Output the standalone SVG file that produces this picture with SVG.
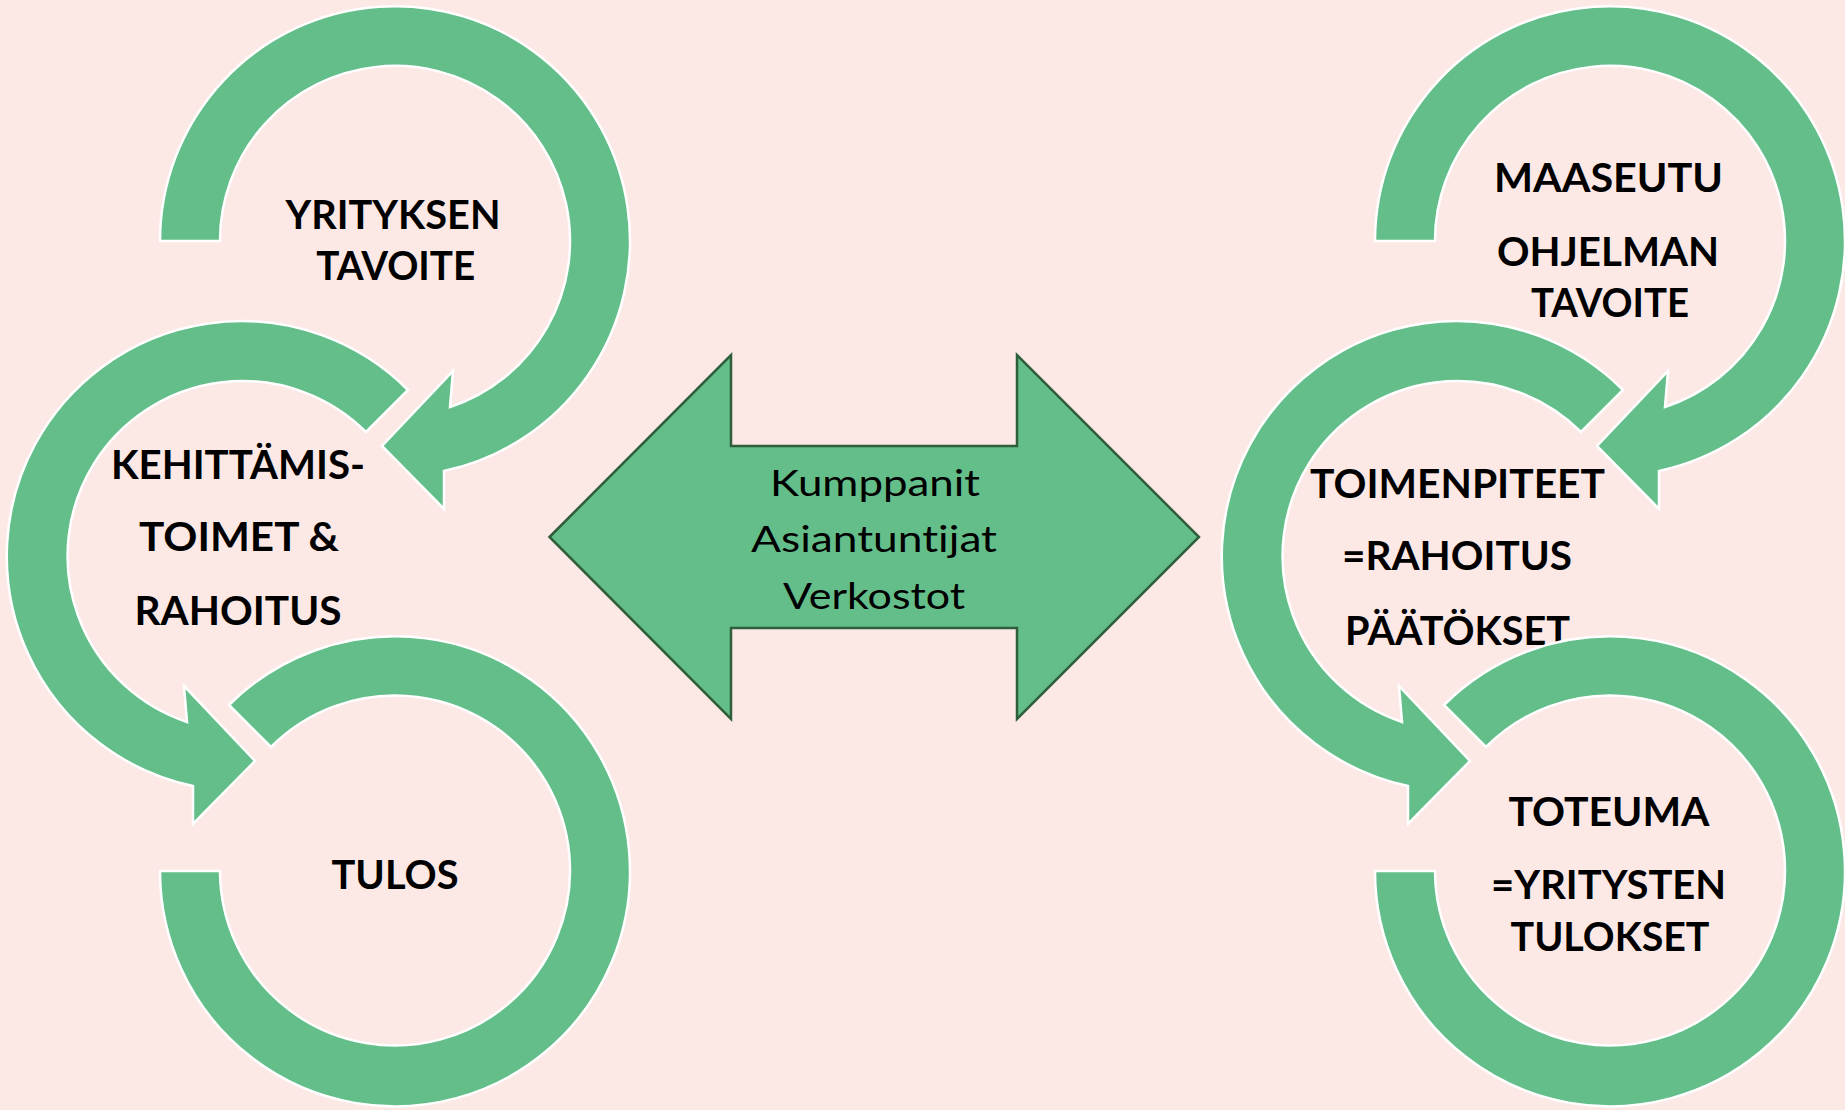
<svg xmlns="http://www.w3.org/2000/svg" width="1845" height="1110" viewBox="0 0 1845 1110">
<style>
.ring{fill:#64BE8A;stroke:#FFFFFF;stroke-width:2.5;stroke-linejoin:miter}
.lbl{font-family:Lato,"Open Sans","Liberation Sans",sans-serif;font-weight:700;font-size:40px;fill:#000;text-anchor:middle;font-variant-ligatures:none}
.mid{font-family:Lato,"Open Sans","Liberation Sans",sans-serif;font-weight:400;font-size:36px;fill:#000;text-anchor:middle;font-variant-ligatures:none}
.dbl{fill:#64BE8A;stroke:#2E5E3A;stroke-width:2.5;stroke-linejoin:miter}
</style>
<defs>
<path id="shapeA" d="M -235,0 A 235 235 0 1 1 49,230 L 49,268 L -13,205 L 58,130 L 55,166 A 175 175 0 1 0 -175,0 Z"/>
<path id="shapeB" d="M 166,-166 A 235 235 0 1 0 -49,230 L -49,268 L 13,205 L -58,130 L -55,166 A 175 175 0 1 1 124,-124 Z"/>
<path id="shapeC" d="M -166,-166 A 235 235 0 1 1 -235,0 L -175,0 A 175 175 0 1 0 -124,-124 Z"/>
</defs>
<rect x="0" y="0" width="1845" height="1110" fill="#FCE9E6"/>

<g id="yrityksen-tavoite">
<use href="#shapeA" class="ring" transform="translate(395,241)"/>
<text class="lbl" x="393" y="228.6" textLength="215" lengthAdjust="spacingAndGlyphs">YRITYKSEN</text>
<text class="lbl" x="395.7" y="280.4" textLength="159" lengthAdjust="spacingAndGlyphs">TAVOITE</text>
</g>

<g id="kehittamistoimet">
<use href="#shapeB" class="ring" transform="translate(242,556)"/>
<text class="lbl" x="238" y="478.6" textLength="254" lengthAdjust="spacingAndGlyphs">KEHITTÄMIS-</text>
<text class="lbl" x="239" y="551" textLength="200" lengthAdjust="spacingAndGlyphs">TOIMET &amp;</text>
<text class="lbl" x="238" y="625" textLength="207" lengthAdjust="spacingAndGlyphs">RAHOITUS</text>
</g>

<g id="tulos">
<use href="#shapeC" class="ring" transform="translate(395,871)"/>
<text class="lbl" x="395" y="888.6" textLength="127" lengthAdjust="spacingAndGlyphs">TULOS</text>
</g>

<g id="kumppanit">
<path class="dbl" d="M 549.5,537 L 731,355 L 731,446 L 1017,446 L 1017,355 L 1199,537 L 1017,719 L 1017,628 L 731,628 L 731,719 Z"/>
<text class="mid" x="875" y="496" textLength="210" lengthAdjust="spacingAndGlyphs">Kumppanit</text>
<text class="mid" x="874" y="552" textLength="246" lengthAdjust="spacingAndGlyphs">Asiantuntijat</text>
<text class="mid" x="874" y="609" textLength="182" lengthAdjust="spacingAndGlyphs">Verkostot</text>
</g>

<g id="maaseutuohjelman-tavoite">
<use href="#shapeA" class="ring" transform="translate(1610,241)"/>
<text class="lbl" x="1608.5" y="192" textLength="229" lengthAdjust="spacingAndGlyphs">MAASEUTU</text>
<text class="lbl" x="1608" y="266" textLength="222" lengthAdjust="spacingAndGlyphs">OHJELMAN</text>
<text class="lbl" x="1610" y="317" textLength="158" lengthAdjust="spacingAndGlyphs">TAVOITE</text>
</g>

<g id="toimenpiteet">
<use href="#shapeB" class="ring" transform="translate(1457,556)"/>
<text class="lbl" x="1457.5" y="498" textLength="295" lengthAdjust="spacingAndGlyphs">TOIMENPITEET</text>
<text class="lbl" x="1457" y="569.6" textLength="230" lengthAdjust="spacingAndGlyphs">=RAHOITUS</text>
<text class="lbl" x="1457.5" y="644.6" textLength="225" lengthAdjust="spacingAndGlyphs">PÄÄTÖKSET</text>
</g>

<g id="toteuma">
<use href="#shapeC" class="ring" transform="translate(1610,871)"/>
<text class="lbl" x="1609" y="826" textLength="201" lengthAdjust="spacingAndGlyphs">TOTEUMA</text>
<text class="lbl" x="1608.6" y="899" textLength="235" lengthAdjust="spacingAndGlyphs">=YRITYSTEN</text>
<text class="lbl" x="1610" y="950.7" textLength="199" lengthAdjust="spacingAndGlyphs">TULOKSET</text>
</g>

<g id="connectors"></g>
</svg>
